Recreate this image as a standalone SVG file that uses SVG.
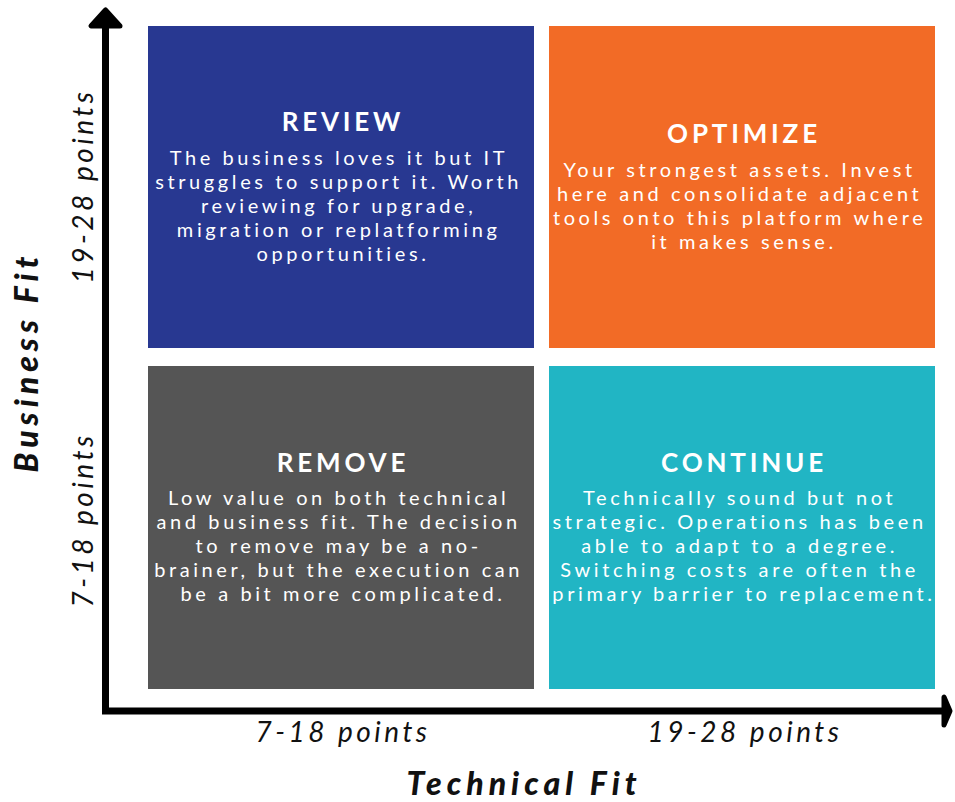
<svg xmlns="http://www.w3.org/2000/svg" width="955" height="802" viewBox="0 0 955 802">
  <style>
    .title { font-family: "Lato", "Open Sans", sans-serif; font-weight: 700; font-size: 26px; letter-spacing: 3.8px; fill: #ffffff; text-anchor: middle; }
    .body { font-family: "Lato", "Open Sans", sans-serif; font-weight: 400; font-size: 20px; letter-spacing: 3.6px; fill: #ffffff; text-anchor: middle; }
    .tick { font-family: "Lato", "Open Sans", sans-serif; font-style: italic; font-weight: 400; font-size: 28px; letter-spacing: 3.5px; fill: #111111; text-anchor: middle; }
    .axis { font-family: "Lato", "Open Sans", sans-serif; font-style: italic; font-weight: 900; font-size: 32px; letter-spacing: 5px; fill: #111111; text-anchor: middle; }
    .head { fill: #000000; stroke: #000000; stroke-width: 5; stroke-linejoin: round; }
  </style>

  <!-- axes -->
  <g id="connectors">
    <rect x="102" y="22" width="7" height="692" fill="#000000"/>
    <polygon class="head" points="105.5,10 91,26 120,26"/>
    <rect x="102" y="707.5" width="843" height="7" fill="#000000"/>
    <polygon class="head" points="950,711 944,697 944,725"/>
  </g>

  <g id="review">
    <rect x="148" y="26" width="386" height="322" fill="#283891"/>
    <text class="title" x="343" y="131">REVIEW</text>
    <text class="body" x="343">
      <tspan x="343" y="165">The business loves it but IT</tspan>
      <tspan x="343" y="189">struggles to support it. Worth</tspan>
      <tspan x="343" y="213">reviewing for upgrade,</tspan>
      <tspan x="343" y="237">migration or replatforming</tspan>
      <tspan x="343" y="261">opportunities.</tspan>
    </text>
  </g>

  <g id="optimize">
    <rect x="549" y="26" width="386" height="322" fill="#f26b26"/>
    <text class="title" x="744" y="143">OPTIMIZE</text>
    <text class="body" x="744">
      <tspan x="744" y="177">Your strongest assets. Invest</tspan>
      <tspan x="744" y="201">here and consolidate adjacent</tspan>
      <tspan x="744" y="225">tools onto this platform where</tspan>
      <tspan x="744" y="249">it makes sense.</tspan>
    </text>
  </g>

  <g id="remove">
    <rect x="148" y="366" width="386" height="323" fill="#555555"/>
    <text class="title" x="343" y="472">REMOVE</text>
    <text class="body" x="343">
      <tspan x="343" y="505">Low value on both technical</tspan>
      <tspan x="343" y="529">and business fit. The decision</tspan>
      <tspan x="343" y="553">to remove may be a no-</tspan>
      <tspan x="343" y="577">brainer, but the execution can</tspan>
      <tspan x="343" y="601">be a bit more complicated.</tspan>
    </text>
  </g>

  <g id="continue">
    <rect x="549" y="366" width="386" height="323" fill="#21b5c4"/>
    <text class="title" x="744" y="472">CONTINUE</text>
    <text class="body" x="744">
      <tspan x="744" y="505">Technically sound but not</tspan>
      <tspan x="744" y="529">strategic. Operations has been</tspan>
      <tspan x="744" y="553">able to adapt to a degree.</tspan>
      <tspan x="744" y="577">Switching costs are often the</tspan>
      <tspan x="744" y="601">primary barrier to replacement.</tspan>
    </text>
  </g>

  <!-- axis labels -->
  <g id="x-axis-labels">
    <text class="tick" x="343" y="742">7-18 points</text>
    <text class="tick" x="745" y="742">19-28 points</text>
    <text class="axis" x="524" y="795">Technical Fit</text>
  </g>
  <g id="y-axis-labels">
    <text class="tick" transform="translate(93,186) rotate(-90)">19-28 points</text>
    <text class="tick" transform="translate(93,520) rotate(-90)">7-18 points</text>
    <text class="axis" transform="translate(38,362) rotate(-90)">Business Fit</text>
  </g>
</svg>
